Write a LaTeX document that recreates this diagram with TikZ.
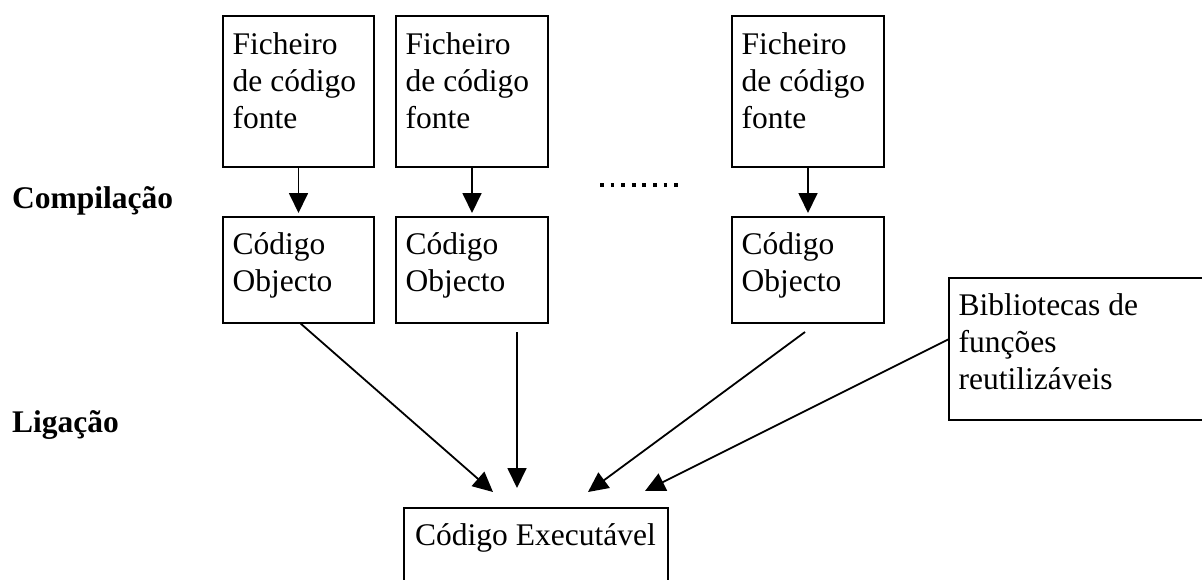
\documentclass[tikz,border=0pt]{standalone}
\usepackage{fontspec}
\setmainfont{Liberation Serif}
\usetikzlibrary{arrows.meta,calc}
\begin{document}
\begin{tikzpicture}[x=1pt,y=-1pt,
  box/.style={draw,line width=1.8pt,anchor=north west,inner sep=0pt,outer sep=0pt},
  txt/.style={anchor=base west,inner sep=0pt,align=left,
              font=\fontsize{31.5}{37}\selectfont},
  stage/.style={anchor=base west,inner sep=0pt,font=\fontsize{31.5}{37}\selectfont\bfseries},
  arr/.style={line width=1.8pt,-{Triangle[length=20pt,width=19pt]}}]
\clip (0,0) rectangle (1202,579);

% source files
\node[box,minimum width=151pt,minimum height=151pt] (f1) at (223,16) {};
\node[box,minimum width=152pt,minimum height=151pt] (f2) at (396,16) {};
\node[box,minimum width=152pt,minimum height=151pt] (f3) at (732,16) {};
% object files
\node[box,minimum width=151pt,minimum height=106pt] (o1) at (223,217) {};
\node[box,minimum width=152pt,minimum height=106pt] (o2) at (396,217) {};
\node[box,minimum width=152pt,minimum height=106pt] (o3) at (732,217) {};
% libraries and executable
\node[box,minimum width=320pt,minimum height=142pt] (lib) at (949,278) {};
\node[box,minimum width=264pt,minimum height=120pt] (exe) at (404,508) {};

% box texts, placed by the baseline of their last line
\foreach \n in {f1,f2,f3}
  \node[txt] (\n t) at ($(\n.north west)+(9.5,112)$) {Ficheiro\\de código\\fonte};
\foreach \n in {o1,o2,o3}
  \node[txt] (\n t) at ($(\n.north west)+(9.5,74.5)$) {Código\\Objecto};
\node[txt] (libt) at ($(lib.north west)+(9.5,111)$) {Bibliotecas de\\funções\\reutilizáveis};
\node[txt] (exet) at ($(exe.north west)+(11,37)$) {Código Executável};

% stage labels
\node[stage] (comp) at (12,208) {Compilação};
\node[stage] (lig) at (12,432) {Ligação};

% compilation arrows
\foreach \i in {1,2,3}
  \draw[arr,shorten >=4pt] (f\i.south) -- (o\i.north);

% ellipsis between columns
\draw[line width=4pt,dash pattern=on 3.8pt off 6.8pt] (600,185.3) -- (678,185.3);

% linking arrows
\coordinate (s1) at (300,323);
\coordinate (s2) at (517,332);
\coordinate (s3) at (805,332);
\coordinate (s4) at (949,339);
\coordinate (t1) at (493,492);
\coordinate (t2) at (517,488);
\coordinate (t3) at (588,492);
\coordinate (t4) at (645,491);
\draw[arr] (s1) -- (t1);
\draw[arr] (s2) -- (t2);
\draw[arr] (s3) -- (t3);
\draw[arr] (s4) -- (t4);
\end{tikzpicture}
\end{document}
